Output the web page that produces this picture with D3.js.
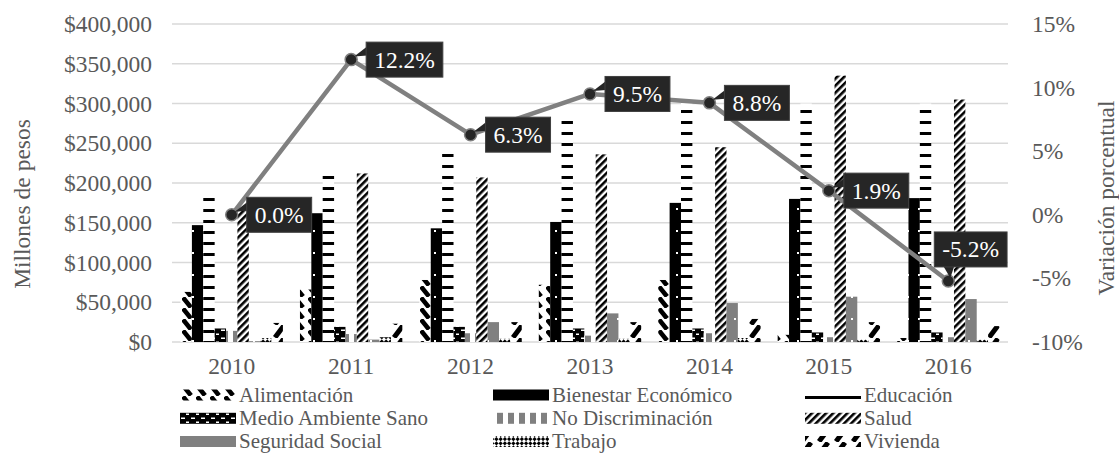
<!DOCTYPE html>
<html>
<head>
<meta charset="utf-8">
<script src="https://cdn.jsdelivr.net/npm/d3@7"></script>
<style>
  html, body { margin: 0; padding: 0; background: #fff; }
  svg { display: block; }
  svg text { font-family: "Liberation Serif", "Times New Roman", Times, "DejaVu Serif", serif; }
</style>
</head>
<body>
<svg id="chart" width="1119" height="454"></svg>
<script>
// Gasto por derecho social (millones de pesos) y variación porcentual anual
const years = ["2010", "2011", "2012", "2013", "2014", "2015", "2016"];
const seriesNames = ["Alimentación", "Bienestar Económico", "Educación", "Medio Ambiente Sano",
  "No Discriminación", "Salud", "Seguridad Social", "Trabajo", "Vivienda"];

const alimentacion = [63000, 66000, 78000, 72000, 78000, 9000, 5000];
const bienestar = [147000, 162000, 143000, 151000, 175000, 180000, 181000];
const educacion = [190000, 216000, 245000, 288000, 304000, 300000, 300000];
const medioAmbiente = [17000, 19000, 19000, 17000, 17000, 12000, 12000];
const noDiscriminacion = [14000, 10000, 11000, 8000, 11000, 6000, 6000];
const salud = [165000, 212000, 207000, 236000, 245000, 335000, 305000];
const seguridadSocial = [1000, 3000, 25000, 36000, 49000, 57000, 54000];
const trabajo = [5000, 6000, 4000, 4000, 5000, 3000, 3000];
const vivienda = [24000, 23000, 25000, 25000, 29000, 25000, 20000];

const variacion = [0.0, 12.2, 6.3, 9.5, 8.8, 1.9, -5.2];

const leftTicks = [0, 50000, 100000, 150000, 200000, 250000, 300000, 350000, 400000];
const rightTicks = [-10, -5, 0, 5, 10, 15];

const seriesValues = [alimentacion, bienestar, educacion, medioAmbiente, noDiscriminacion,
  salud, seguridadSocial, trabajo, vivienda];
const patternIds = ["p-alim", "p-bien", "p-educ", "p-medio", "p-nodis", "p-salud", "p-seg", "p-trab", "p-viv"];

const FONT = "'Liberation Serif', 'Times New Roman', Times, 'DejaVu Serif', serif";
const svg = d3.select("#chart");
const textColor = "#595959";
const plot = { left: 172, right: 1008, top: 24, bottom: 342 };

// ---- fill patterns ----
const defs = svg.append("defs");
function pat(id, w, h, transform) {
  const p = defs.append("pattern").attr("id", id).attr("patternUnits", "userSpaceOnUse")
    .attr("width", w).attr("height", h);
  if (transform) p.attr("patternTransform", transform);
  return p;
}
// Alimentación: wide downward diagonal strokes
{
  const p = pat("p-alim", 14, 11);
  p.append("rect").attr("width", 14).attr("height", 11).attr("fill", "#fff");
  p.append("path").attr("d", "M1,0.5 L9,10.5").attr("stroke", "#000").attr("stroke-width", 4.6);
}
// Bienestar Económico: black with sparse white dots
{
  const p = pat("p-bien", 11, 22);
  p.append("rect").attr("width", 11).attr("height", 22).attr("fill", "#000");
  p.append("rect").attr("x", 5).attr("y", 10).attr("width", 2).attr("height", 2).attr("fill", "#fff");
}
// Educación: horizontal dashes
{
  const p = pat("p-educ", 10, 11);
  p.append("rect").attr("width", 10).attr("height", 11).attr("fill", "#fff");
  p.append("rect").attr("y", 0).attr("width", 10).attr("height", 3).attr("fill", "#000");
}
// Medio Ambiente Sano: black with white bricks
{
  const p = pat("p-medio", 10, 8);
  p.append("rect").attr("width", 10).attr("height", 8).attr("fill", "#000");
  p.append("rect").attr("x", 1).attr("y", 1.5).attr("width", 4).attr("height", 1.5).attr("fill", "#fff");
  p.append("rect").attr("x", 6).attr("y", 5.5).attr("width", 3).attr("height", 1.5).attr("fill", "#fff");
}
// No Discriminación: gray vertical stripes
{
  const p = pat("p-nodis", 11, 10);
  p.append("rect").attr("width", 11).attr("height", 10).attr("fill", "#fff");
  p.append("rect").attr("x", 2).attr("width", 6).attr("height", 10).attr("fill", "#808080");
}
// Salud: dense upward diagonal stripes
{
  const p = pat("p-salud", 5, 5, "rotate(45)");
  p.append("rect").attr("width", 5).attr("height", 5).attr("fill", "#fff");
  p.append("rect").attr("width", 2.6).attr("height", 5).attr("fill", "#000");
}
// Seguridad Social: gray with white dots
{
  const p = pat("p-seg", 13, 22);
  p.append("rect").attr("width", 13).attr("height", 22).attr("fill", "#808080");
  p.append("rect").attr("x", 6).attr("y", 10).attr("width", 2).attr("height", 2).attr("fill", "#fff");
}
// Trabajo: small diagonal checkerboard
{
  const p = pat("p-trab", 6, 6, "rotate(45)");
  p.append("rect").attr("width", 6).attr("height", 6).attr("fill", "#fff");
  p.append("rect").attr("width", 3).attr("height", 3).attr("fill", "#000");
  p.append("rect").attr("x", 3).attr("y", 3).attr("width", 3).attr("height", 3).attr("fill", "#000");
}
// Vivienda: wide upward diagonal strokes
{
  const p = pat("p-viv", 17, 13);
  p.append("rect").attr("width", 17).attr("height", 13).attr("fill", "#fff");
  p.append("path").attr("d", "M3,12.5 L12,0.5").attr("stroke", "#000").attr("stroke-width", 5);
}

// ---- scales ----
const x = d3.scaleBand().domain(years).range([plot.left, plot.right])
  .paddingInner(1.5 / 10.5).paddingOuter(0.75 / 10.5);
const xs = d3.scaleBand().domain(seriesNames).range([0, x.bandwidth()]);
const y = d3.scaleLinear().domain([0, 400000]).range([plot.bottom, plot.top]);
const y2 = d3.scaleLinear().domain([-10, 15]).range([plot.bottom, plot.top]);

// ---- gridlines ----
svg.append("g").selectAll("line").data(leftTicks).join("line")
  .attr("x1", plot.left).attr("x2", plot.right)
  .attr("y1", d => y(d)).attr("y2", d => y(d))
  .attr("stroke", "#d9d9d9").attr("stroke-width", 1.3);

// ---- axes ----
const fmtMoney = d => "$" + d3.format(",")(d);
const leftAxis = svg.append("g").attr("transform", `translate(${plot.left - 20},0)`)
  .call(d3.axisLeft(y).tickValues(leftTicks).tickFormat(fmtMoney).tickSize(0).tickPadding(0));
const rightAxis = svg.append("g").attr("transform", `translate(${plot.right + 24},0)`)
  .call(d3.axisRight(y2).tickValues(rightTicks).tickFormat(d => d + "%").tickSize(0).tickPadding(0));
const bottomAxis = svg.append("g").attr("transform", `translate(0,${plot.bottom + 24})`)
  .call(d3.axisBottom(x).tickSize(0).tickPadding(0));
[leftAxis, rightAxis, bottomAxis].forEach(g => {
  g.attr("font-family", null).attr("font-size", null);
  g.select(".domain").remove();
  g.selectAll("text").attr("fill", textColor).style("font-size", "23.5px")
    .style("font-family", FONT);
});
bottomAxis.selectAll("text").attr("dy", "0.71em").attr("y", -9);

// axis titles
svg.append("text").attr("transform", "translate(30,204) rotate(-90)")
  .attr("text-anchor", "middle").attr("fill", textColor).style("font-size", "23.5px")
  .style("font-family", FONT).text("Millones de pesos");
svg.append("text").attr("transform", "translate(1114,198) rotate(-90)")
  .attr("text-anchor", "middle").attr("fill", textColor).style("font-size", "23.5px")
  .style("font-family", FONT).text("Variación porcentual");

// ---- bars ----
const barData = [];
seriesValues.forEach((vals, si) => {
  vals.forEach((v, yi) => barData.push({ s: seriesNames[si], si, year: years[yi], v }));
});
svg.append("g").selectAll("rect").data(barData).join("rect")
  .attr("x", d => x(d.year) + xs(d.s))
  .attr("width", xs.bandwidth())
  .attr("y", d => y(d.v))
  .attr("height", d => y(0) - y(d.v))
  .attr("fill", d => `url(#${patternIds[d.si]})`);

// ---- line (right axis) ----
const pts = variacion.map((v, i) => ({ v, cx: x(years[i]) + x.bandwidth() / 2, cy: y2(v) }));
svg.append("path").datum(pts)
  .attr("d", d3.line().x(d => d.cx).y(d => d.cy))
  .attr("fill", "none").attr("stroke", "#808080").attr("stroke-width", 4.5)
  .attr("stroke-linejoin", "round");
svg.append("g").selectAll("circle").data(pts).join("circle")
  .attr("cx", d => d.cx).attr("cy", d => d.cy).attr("r", 6)
  .attr("fill", "#262626").attr("stroke", "#7f7f7f").attr("stroke-width", 1.5);

// ---- data callouts ----
const lab = svg.append("g");
pts.forEach(d => {
  const g = lab.append("g");
  const t = g.append("text").attr("fill", "#fff").style("font-size", "23.5px")
    .style("font-family", FONT)
    .text(d.v.toFixed(1) + "%");
  const tw = t.node().getComputedTextLength();
  const bw = tw + 16, bh = 35;
  let bx, by, tri;
  if (d.v >= 0) {
    bx = d.cx + 15; by = d.cy - bh / 2;
    tri = [[bx + 1, d.cy - 13], [bx + 1, d.cy - 4], [d.cx + 3, d.cy - 3]];
  } else {
    bx = d.cx - 14; by = d.cy - 14 - bh;
    tri = [[bx + 9, by + bh - 1], [bx + 20, by + bh - 1], [d.cx + 2, d.cy - 3]];
  }
  g.insert("path", "text").attr("d", d3.line()(tri) + "Z").attr("fill", "#262626");
  g.insert("rect", "text").attr("x", bx).attr("y", by).attr("width", bw).attr("height", bh)
    .attr("fill", "#262626").attr("stroke", "#404040").attr("stroke-width", 1);
  t.attr("x", bx + bw / 2).attr("y", by + bh / 2 + 8).attr("text-anchor", "middle");
});

// ---- legend ----
const colX = [180, 493, 805];
const rowBase = [401.5, 424.8, 448];
const legend = svg.append("g");
seriesNames.forEach((name, i) => {
  const c = i % 3, r = Math.floor(i / 3);
  legend.append("rect").attr("x", colX[c]).attr("y", rowBase[r] - 12)
    .attr("width", 56).attr("height", 11).attr("fill", `url(#${patternIds[i]})`);
  legend.append("text").attr("x", colX[c] + 59).attr("y", rowBase[r])
    .attr("fill", textColor).style("font-size", "21px").style("font-family", FONT).text(name);
});
</script>
</body>
</html>
